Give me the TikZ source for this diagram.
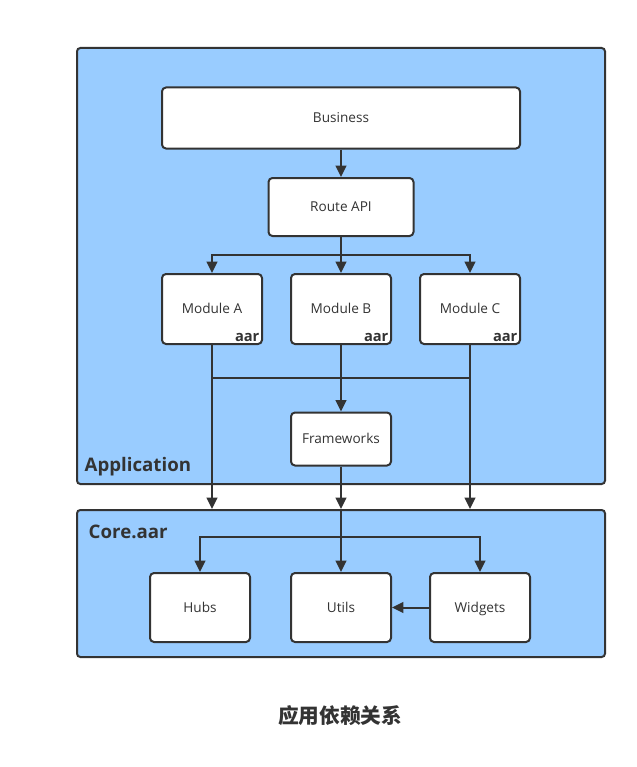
\documentclass[tikz,border=0pt]{standalone}
\usepackage{fontspec}
\setmainfont{Open Sans}
\newfontfamily\cjk{Noto Sans CJK SC}
\usetikzlibrary{arrows.meta}
\definecolor{ink}{HTML}{333333}
\definecolor{sky}{HTML}{99CCFF}

\begin{document}
\begin{tikzpicture}[
    x=0.75pt, y=-0.75pt,
    frame/.style={rectangle, draw=ink, fill=sky, line width=1.5pt, rounded corners=2.5pt},
    box/.style={rectangle, draw=ink, fill=white, line width=1.5pt, rounded corners=3pt,
        font=\fontsize{10.2}{12}\selectfont, text=ink, text height=7.5pt, text depth=0.5pt},
    modbox/.style={box, minimum width=75pt, minimum height=52.5pt},
    corebox/.style={box, minimum width=75pt, minimum height=51.75pt},
    aartag/.style={font=\fontsize{11}{13}\selectfont\bfseries, text=ink, anchor=south east, inner sep=2.5pt},
    caption/.style={font=\fontsize{14}{16}\selectfont\bfseries, text=ink, anchor=west},
    link/.style={draw=ink, line width=1.5pt},
    arr/.style={link, -{Triangle[length=8.5pt, width=8pt]}},
]
\useasboundingbox (0,0) rectangle (636,767);

% Rahmen
\node[frame, minimum width=396pt, minimum height=327pt] (app) at (341,266) {};
\node[frame, minimum width=396pt, minimum height=110.25pt] (core) at (341,583.5) {};
\node[caption] (applbl) at (80,467) {Application};
\node[caption] (corelbl) at (84,532) {Core.aar};

% Obere Schicht
\node[box, minimum width=268.5pt, minimum height=45.75pt] (business) at (341,118) {Business};
\node[box, minimum width=108.75pt, minimum height=43.5pt] (route) at (341,207) {Route API};

% Module
\node[modbox] (modA) at (212,309) {Module A};
\node[modbox] (modB) at (341,309) {Module B};
\node[modbox] (modC) at (470,309) {Module C};
\node[aartag] (aarA) at (modA.south east) {aar};
\node[aartag] (aarB) at (modB.south east) {aar};
\node[aartag] (aarC) at (modC.south east) {aar};

\node[box, minimum width=75pt, minimum height=39.75pt] (fw) at (341,439) {Frameworks};

% Core-Inhalt
\node[corebox] (hubs) at (200,607.5) {Hubs};
\node[corebox] (utils) at (341,607.5) {Utils};
\node[corebox] (widgets) at (480,607.5) {Widgets};

% Verbindungen
\coordinate (rsplit) at (341,255);
\coordinate (bus) at (341,378);
\coordinate (csplit) at (341,537);

\draw[arr] (business) -- (route);
\draw[link] (route) -- (rsplit);
\draw[arr] (rsplit) -| (modA);
\draw[arr] (rsplit) -- (modB);
\draw[arr] (rsplit) -| (modC);

\draw[link] (modA) |- (bus);
\draw[link] (modC) |- (bus);
\draw[arr] (modB) -- (fw);

\draw[arr] (modA) -- (modA |- core.north);
\draw[arr] (modC) -- (modC |- core.north);
\draw[arr] (fw) -- (core.north);

\draw[link] (core.north) -- (csplit);
\draw[arr] (csplit) -| (hubs);
\draw[arr] (csplit) -- (utils);
\draw[arr] (csplit) -| (widgets);
\draw[arr] (widgets) -- (utils);

% Titel
\node[font=\cjk\fontsize{15.5}{18}\selectfont\bfseries, text=ink] (title) at (340,716) {应用依赖关系};

\end{tikzpicture}
\end{document}
